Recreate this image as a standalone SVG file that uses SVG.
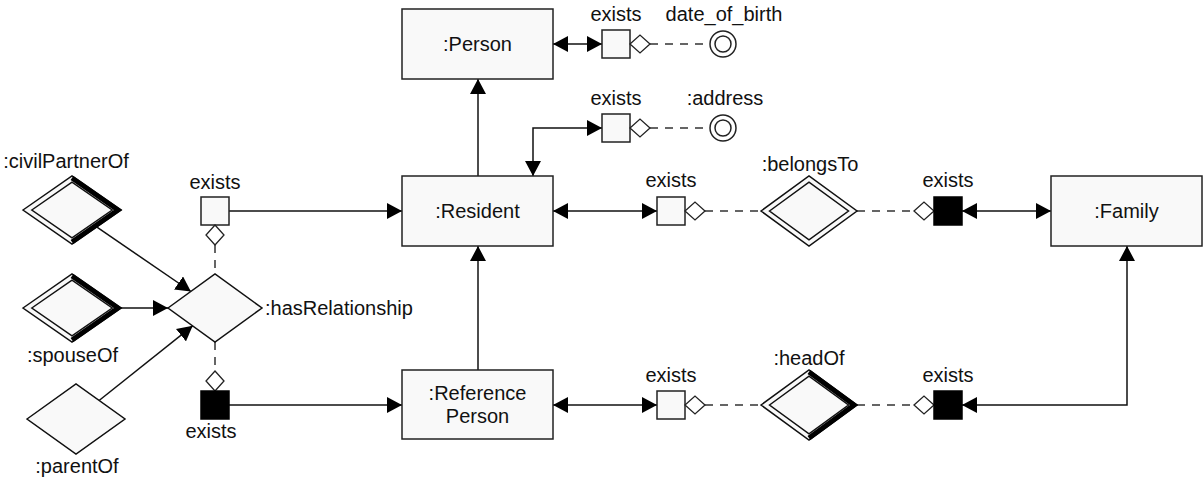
<svg xmlns="http://www.w3.org/2000/svg" width="1204" height="482" viewBox="0 0 1204 482">
<style>
text{font-family:"Liberation Sans",Arial,sans-serif;font-size:20px;fill:#111;text-anchor:middle}
.box{fill:#f9f9f9;stroke:#222;stroke-width:1.5}
.dia{fill:#f9f9f9;stroke:#111;stroke-width:1.5;stroke-linejoin:miter}
.thick{fill:none;stroke:#000;stroke-width:5;stroke-linejoin:miter}
.sq{fill:#f9f9f9;stroke:#222;stroke-width:1.5}
.bsq{fill:#000;stroke:#000;stroke-width:1.5}
.sd{fill:#fff;stroke:#222;stroke-width:1.3}
.ln{fill:none;stroke:#111;stroke-width:1.5}
.dash{fill:none;stroke:#333;stroke-width:1.5;stroke-dasharray:8 7}
.circ{fill:#fff;stroke:#222;stroke-width:1.5}
</style>
<defs>
<marker id="arr" markerWidth="16" markerHeight="16" refX="15" refY="8" orient="auto-start-reverse" markerUnits="userSpaceOnUse"><path d="M0,0 L15,8 L0,16 z" fill="#000"/></marker>
</defs>

<g id="connectors">
<path class="ln" d="M478,176 L478,79" marker-end="url(#arr)"/>
<path class="ln" d="M478,370 L478,246" marker-end="url(#arr)"/>
<path class="ln" d="M553,44 L602,44" marker-start="url(#arr)" marker-end="url(#arr)"/>
<path class="ln" d="M533,176 L533,128 L602,128" marker-start="url(#arr)" marker-end="url(#arr)"/>
<path class="ln" d="M229,211 L402,211" marker-end="url(#arr)"/>
<path class="ln" d="M229,405 L402,405" marker-end="url(#arr)"/>
<path class="ln" d="M553,211 L657,211" marker-start="url(#arr)" marker-end="url(#arr)"/>
<path class="ln" d="M962,211 L1051,211" marker-start="url(#arr)" marker-end="url(#arr)"/>
<path class="ln" d="M553,405 L657,405" marker-start="url(#arr)" marker-end="url(#arr)"/>
<path class="ln" d="M1127,246 L1127,405 L962,405" marker-start="url(#arr)" marker-end="url(#arr)"/>
<path class="ln" d="M96.6,226.9 L190.9,291.5" marker-end="url(#arr)"/>
<path class="ln" d="M121,308 L168,308" marker-end="url(#arr)"/>
<path class="ln" d="M99.1,400.5 L192.7,325.8" marker-end="url(#arr)"/>
<path class="dash" d="M650,44 L710,44"/>
<path class="dash" d="M650,128 L710,128"/>
<path class="dash" d="M705,211 L761,211"/>
<path class="dash" d="M857,211 L914,211"/>
<path class="dash" d="M705,405 L761,405"/>
<path class="dash" d="M857,405 L914,405"/>
<path class="dash" d="M215,245 L215,274"/>
<path class="dash" d="M215,342 L215,371"/>
</g>

<g id="person">
<rect class="box" x="402" y="9" width="151" height="70"/>
<text x="477.5" y="51">:Person</text>
</g>
<g id="resident">
<rect class="box" x="402" y="176" width="151" height="70"/>
<text x="477.5" y="218">:Resident</text>
</g>
<g id="referencePerson">
<rect class="box" x="402" y="370" width="151" height="69"/>
<text x="477.5" y="400">:Reference</text>
<text x="477.5" y="423">Person</text>
</g>
<g id="family">
<rect class="box" x="1051" y="176" width="151" height="70"/>
<text x="1126.5" y="218">:Family</text>
</g>

<g id="exists-dob">
<rect class="sq" x="602" y="30" width="28" height="28"/>
<polygon class="sd" points="630,44 640,35 650,44 640,53"/>
<text x="616" y="21">exists</text>
</g>
<g id="date_of_birth">
<circle class="circ" cx="723" cy="44" r="13"/>
<circle class="circ" cx="723" cy="44" r="8"/>
<text x="724" y="21">date_of_birth</text>
</g>
<g id="exists-address">
<rect class="sq" x="602" y="114" width="28" height="28"/>
<polygon class="sd" points="630,128 640,119 650,128 640,137"/>
<text x="616" y="105">exists</text>
</g>
<g id="address">
<circle class="circ" cx="723" cy="128" r="13"/>
<circle class="circ" cx="723" cy="128" r="8"/>
<text x="725" y="105">:address</text>
</g>

<g id="exists-belongs-left">
<rect class="sq" x="657" y="197" width="28" height="28"/>
<polygon class="sd" points="685,211 695,202 705,211 695,220"/>
<text x="671" y="187">exists</text>
</g>
<g id="belongsTo">
<polygon class="dia" points="761,211 809,176 857,211 809,246"/>
<polygon class="dia" points="769.5,211 809,182.2 848.5,211 809,239.8"/>
<text x="810" y="171">:belongsTo</text>
</g>
<g id="exists-belongs-right">
<polygon class="sd" points="914,211 924,202 934,211 924,220"/>
<rect class="bsq" x="934" y="197" width="28" height="28"/>
<text x="948" y="187">exists</text>
</g>

<g id="exists-head-left">
<rect class="sq" x="657" y="391" width="28" height="28"/>
<polygon class="sd" points="685,405 695,396 705,405 695,414"/>
<text x="671" y="382">exists</text>
</g>
<g id="headOf">
<polygon class="dia" points="761,405 809,370 857,405 809,440"/>
<polygon class="dia" points="769.5,405 809,376.2 848.5,405 809,433.8"/>
<polyline class="thick" points="809,372 854,405 809,438"/>
<text x="809" y="365">:headOf</text>
</g>
<g id="exists-head-right">
<polygon class="sd" points="914,405 924,396 934,405 924,414"/>
<rect class="bsq" x="934" y="391" width="28" height="28"/>
<text x="948" y="382">exists</text>
</g>

<g id="exists-rel-top">
<rect class="sq" x="201" y="197" width="28" height="28"/>
<polygon class="sd" points="215,225 224,235 215,245 206,235"/>
<text x="215" y="189">exists</text>
</g>
<g id="hasRelationship">
<polygon class="dia" points="168,308 215,274 262,308 215,342"/>
<text x="265" y="315" style="text-anchor:start">:hasRelationship</text>
</g>
<g id="exists-rel-bottom">
<polygon class="sd" points="215,371 224,381 215,391 206,381"/>
<rect class="bsq" x="201" y="391" width="28" height="28"/>
<text x="211" y="438">exists</text>
</g>

<g id="civilPartnerOf">
<polygon class="dia" points="23,210 72,176 121,210 72,244"/>
<polygon class="dia" points="31.8,210 72,182.1 112.2,210 72,237.9"/>
<polyline class="thick" points="72,178 118,210 72,242"/>
<text x="66" y="168">:civilPartnerOf</text>
</g>
<g id="spouseOf">
<polygon class="dia" points="23,308 72,274 121,308 72,342"/>
<polygon class="dia" points="31.8,308 72,280.1 112.2,308 72,335.9"/>
<polyline class="thick" points="72,276 118,308 72,340"/>
<text x="72.5" y="362">:spouseOf</text>
</g>
<g id="parentOf">
<polygon class="dia" points="27,419 76,384 125,419 76,454"/>
<text x="77" y="473">:parentOf</text>
</g>
</svg>
